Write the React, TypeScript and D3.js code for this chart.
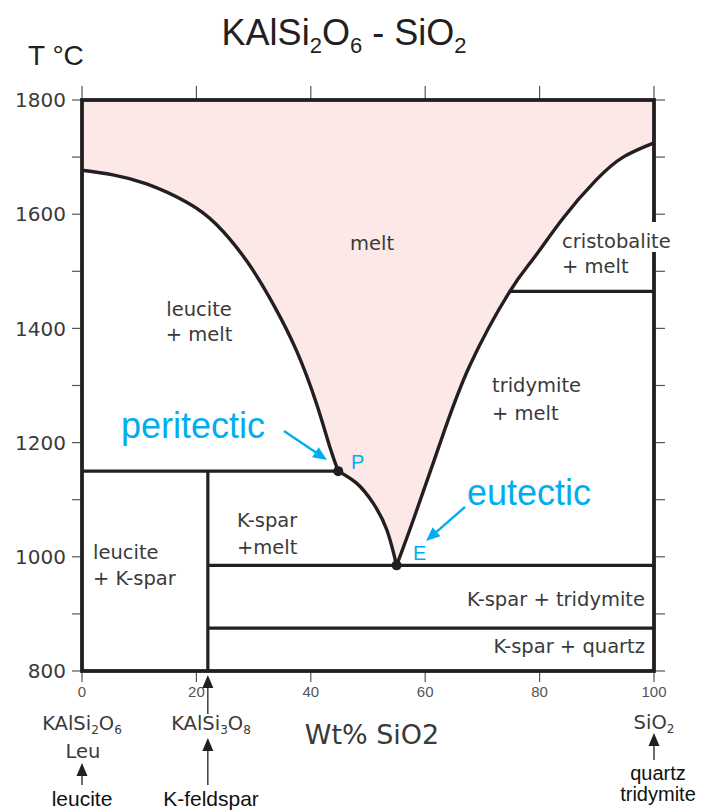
import React from 'react';
import * as d3 from 'd3';

// composition axis (wt% SiO2) and temperature axis (°C)
const xTicks = [0, 20, 40, 60, 80, 100];
const yLabelTicks = [800, 1000, 1200, 1400, 1600, 1800];
const yTicks = [800, 900, 1000, 1100, 1200, 1300, 1400, 1500, 1600, 1700, 1800];

// liquidus curves: [wt% SiO2, T °C]
const leuciteLiquidus = [
  [0, 1677], [5.4, 1669], [11.3, 1653], [18.3, 1621], [23.5, 1582], [28.8, 1518],
  [33.4, 1443], [37.5, 1361], [41.0, 1268], [43.4, 1190], [44.8, 1150],
];
const kfsLiquidus = [[44.8, 1150], [48.0, 1129], [50.9, 1094], [53.3, 1047], [55.0, 985]];
const silicaLiquidus = [
  [55.0, 985], [57.9, 1064], [62.6, 1199], [67.8, 1335], [74.8, 1465], [78.9, 1522],
  [84.1, 1593], [89.9, 1660], [94.6, 1700], [100, 1725],
];

// invariant points and phase boundaries
const peritectic = [44.8, 1150];
const eutectic = [55.0, 985];
const kfsComposition = 22;
const quartzTridymite = 875;
const tridymiteCristobalite = 1465;

const INK = '#231f20';
const BLUE = '#00aeef';
const LABEL = '#3a3a3a';
const GOTHIC = "'DejaVu Sans', Verdana, sans-serif";
const ARIAL = "'Liberation Sans', Arial, sans-serif";

const x = d3.scaleLinear().domain([0, 100]).range([82, 654]);
const y = d3.scaleLinear().domain([800, 1800]).range([671, 100]);

const line = d3
  .line<number[]>()
  .x(d => x(d[0]))
  .y(d => y(d[1]))
  .curve(d3.curveNatural);

// arrow head polygon pointing from (x1,y1) to (x2,y2)
function head(x1: number, y1: number, x2: number, y2: number, len = 13, w = 11) {
  const a = Math.atan2(y2 - y1, x2 - x1);
  const bx = x2 - len * Math.cos(a);
  const by = y2 - len * Math.sin(a);
  const px = (w / 2) * Math.sin(a);
  const py = (w / 2) * Math.cos(a);
  return `${x2},${y2} ${bx + px},${by - py} ${bx - px},${by + py}`;
}

const Arrow = ({ x1, y1, x2, y2, color, sw = 1.3, len = 13, w = 11 }: any) => {
  const a = Math.atan2(y2 - y1, x2 - x1);
  return (
    <g>
      <line x1={x1} y1={y1} x2={x2 - (len - 2) * Math.cos(a)} y2={y2 - (len - 2) * Math.sin(a)} stroke={color} strokeWidth={sw} />
      <polygon points={head(x1, y1, x2, y2, len, w)} fill={color} />
    </g>
  );
};

export default function App() {
  const seg1 = line(leuciteLiquidus)!;
  const seg2 = line(kfsLiquidus)!;
  const seg3 = line(silicaLiquidus)!;
  const meltPath =
    `M${x(0)},${y(1800)}L` + seg1.slice(1) + 'L' + seg2.slice(1) + 'L' + seg3.slice(1) +
    `L${x(100)},${y(1800)}Z`;

  const sub = (t: string, size: number, shift: number) => (
    <tspan fontSize={size} dy={shift}>{t}</tspan>
  );

  return (
    <svg width={704} height={812} style={{ position: 'absolute', left: 0, top: 0, background: '#fff' }}>
      {/* melt field */}
      <path d={meltPath} fill="#fde8e8" />

      {/* ticks */}
      <g stroke="#555" strokeWidth={1.2}>
        {yTicks.map(t => (
          <g key={t}>
            <line x1={x(0) - 10} x2={x(0)} y1={y(t)} y2={y(t)} />
            <line x1={x(100)} x2={x(100) + 11} y1={y(t)} y2={y(t)} />
          </g>
        ))}
        {xTicks.map(t => (
          <g key={t}>
            <line x1={x(t)} x2={x(t)} y1={y(1800) - 14} y2={y(1800)} />
            <line x1={x(t)} x2={x(t)} y1={y(800)} y2={y(800) + 11} />
          </g>
        ))}
      </g>

      {/* phase boundaries */}
      <g stroke={INK} strokeWidth={3.2} fill="none" strokeLinecap="butt">
        <line x1={x(0)} x2={x(peritectic[0])} y1={y(peritectic[1])} y2={y(peritectic[1])} />
        <line x1={x(kfsComposition)} x2={x(kfsComposition)} y1={y(peritectic[1])} y2={y(800)} />
        <line x1={x(kfsComposition)} x2={x(100)} y1={y(eutectic[1])} y2={y(eutectic[1])} />
        <line x1={x(kfsComposition)} x2={x(100)} y1={y(quartzTridymite)} y2={y(quartzTridymite)} />
        <line x1={x(74.8)} x2={x(100)} y1={y(tridymiteCristobalite)} y2={y(tridymiteCristobalite)} />
        <path d={seg1} strokeWidth={3.4} />
        <path d={seg2} strokeWidth={3.4} />
        <path d={seg3} strokeWidth={3.4} />
      </g>

      {/* frame */}
      <rect x={x(0)} y={y(1800)} width={x(100) - x(0)} height={y(800) - y(1800)} fill="none" stroke={INK} strokeWidth={3.8} />
      <rect x={649} y={222} width={30} height={30} fill="#fff" />

      <circle cx={x(peritectic[0])} cy={y(peritectic[1])} r={5} fill={INK} />
      <circle cx={x(eutectic[0])} cy={y(eutectic[1])} r={5} fill={INK} />

      {/* axis labels */}
      <g fontFamily={GOTHIC} fontSize={20} fill={LABEL} textAnchor="end">
        {yLabelTicks.map(t => (
          <text key={t} x={66} y={y(t)} dy="0.36em">{t}</text>
        ))}
      </g>
      <g fontFamily="'Liberation Sans Narrow', 'Liberation Sans', Arial" fontSize={15} fill="#555" textAnchor="middle">
        {xTicks.map(t => (
          <text key={t} x={x(t)} y={697}>{t}</text>
        ))}
      </g>

      <text x={344} y={45} textAnchor="middle" fontFamily={ARIAL} fontSize={36} fill={INK}>
        KAlSi{sub('2', 22, 8)}<tspan dy={-8}>O</tspan>{sub('6', 22, 8)}<tspan dy={-8}>{' - SiO'}</tspan>{sub('2', 22, 8)}
      </text>
      <text x={28} y={65} fontFamily={ARIAL} fontSize={28} fill={INK}>T °C</text>
      <text x={372} y={744} textAnchor="middle" fontFamily={GOTHIC} fontSize={27} fill={LABEL}>Wt% SiO2</text>

      {/* field labels */}
      <g fontFamily={GOTHIC} fontSize={19.5} fill={LABEL}>
        <text x={372} y={250} textAnchor="middle">melt</text>
        <text x={199} y={316} textAnchor="middle">leucite</text>
        <text x={199} y={341} textAnchor="middle">+ melt</text>
        <text x={562} y={248}>cristobalite</text>
        <text x={562} y={273}>+ melt</text>
        <text x={492} y={392}>tridymite</text>
        <text x={492} y={420}>+ melt</text>
        <text x={237} y={527}>K-spar</text>
        <text x={237} y={554}>+melt</text>
        <text x={93} y={559}>leucite</text>
        <text x={93} y={585}>+ K-spar</text>
        <text x={645} y={606} textAnchor="end">K-spar + tridymite</text>
        <text x={645} y={653} textAnchor="end">K-spar + quartz</text>
      </g>

      {/* invariant point annotations */}
      <g fontFamily={ARIAL} fill={BLUE}>
        <text x={121} y={438} fontSize={36}>peritectic</text>
        <text x={467} y={505} fontSize={36}>eutectic</text>
        <text x={351} y={469} fontSize={20}>P</text>
        <text x={413} y={560} fontSize={20}>E</text>
      </g>
      <Arrow x1={284} y1={431} x2={327} y2={460} color={BLUE} sw={2.4} len={14} w={12} />
      <Arrow x1={465} y1={507} x2={426} y2={541} color={BLUE} sw={2.4} len={14} w={12} />

      {/* end-member labels */}
      <g fontFamily={GOTHIC} fontSize={19.5} fill={LABEL} textAnchor="middle">
        <text x={x(0)} y={730}>
          KAlSi{sub('2', 12, 4)}<tspan dy={-4}>O</tspan>{sub('6', 12, 4)}
        </text>
        <text x={x(0) + 1} y={758}>Leu</text>
        <text x={211} y={730}>
          KAlSi{sub('3', 12, 4)}<tspan dy={-4}>O</tspan>{sub('8', 12, 4)}
        </text>
        <text x={x(100)} y={729}>
          SiO{sub('2', 12, 4)}
        </text>
      </g>
      <g fontFamily={ARIAL} fontSize={21} fill="#111" textAnchor="middle">
        <text x={x(0)} y={806}>leucite</text>
        <text x={211} y={806}>K-feldspar</text>
      </g>
      <g fontFamily={ARIAL} fontSize={20} fill="#111" textAnchor="middle">
        <text x={658} y={780}>quartz</text>
        <text x={658} y={801}>tridymite</text>
      </g>
      <Arrow x1={x(0)} y1={785} x2={x(0)} y2={763} color={INK} />
      <Arrow x1={x(kfsComposition)} y1={714} x2={x(kfsComposition)} y2={675} color={INK} />
      <Arrow x1={x(kfsComposition)} y1={785} x2={x(kfsComposition)} y2={738} color={INK} />
      <Arrow x1={x(100)} y1={760} x2={x(100)} y2={733} color={INK} />
    </svg>
  );
}
